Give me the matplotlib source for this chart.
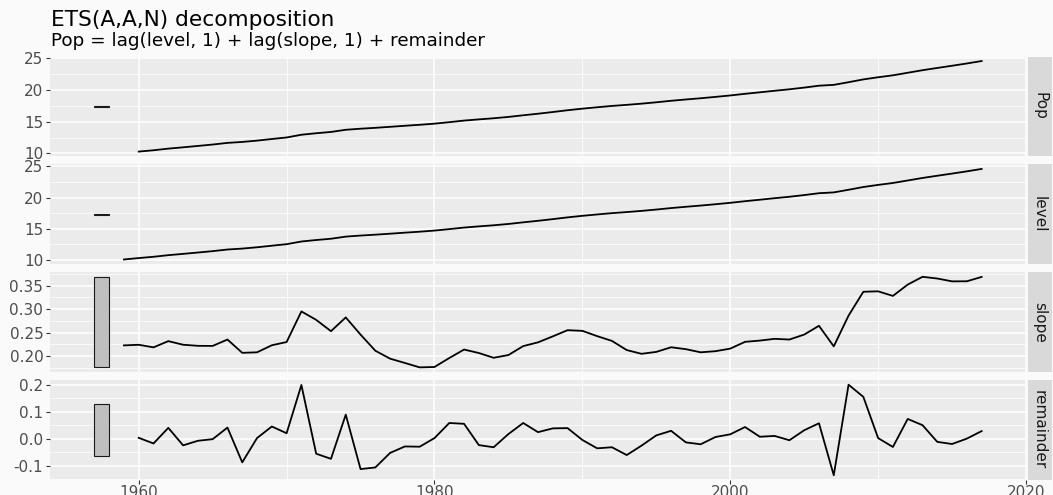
import matplotlib
matplotlib.use("Agg")
import matplotlib.pyplot as plt
from matplotlib.patches import Rectangle

# Australian population (millions) and its ETS(A,A,N) components
years = list(range(1960, 2018))
years_state = list(range(1959, 2018))

pop = [10.276, 10.483, 10.742, 10.950, 11.167, 11.388, 11.651, 11.799, 12.009, 12.263,
       12.507, 12.937, 13.177, 13.380, 13.723, 13.893, 14.033, 14.192, 14.358, 14.514,
       14.692, 14.927, 15.178, 15.369, 15.544, 15.758, 16.018, 16.264, 16.532, 16.814,
       17.065, 17.284, 17.495, 17.667, 17.855, 18.072, 18.311, 18.517, 18.711, 18.926,
       19.153, 19.413, 19.651, 19.895, 20.127, 20.395, 20.698, 20.828, 21.249, 21.692,
       22.032, 22.340, 22.742, 23.146, 23.504, 23.851, 24.211, 24.599]

level = [10.050,
         10.276, 10.483, 10.742, 10.950, 11.167, 11.388, 11.651, 11.799, 12.009, 12.263,
         12.507, 12.937, 13.177, 13.380, 13.723, 13.893, 14.033, 14.192, 14.358, 14.514,
         14.692, 14.927, 15.178, 15.369, 15.544, 15.758, 16.018, 16.264, 16.532, 16.814,
         17.065, 17.284, 17.495, 17.667, 17.855, 18.072, 18.311, 18.517, 18.711, 18.926,
         19.153, 19.413, 19.651, 19.895, 20.127, 20.395, 20.698, 20.828, 21.249, 21.692,
         22.032, 22.340, 22.742, 23.146, 23.504, 23.851, 24.211, 24.599]

slope = [0.2225,
         0.2238, 0.2183, 0.2316, 0.2239, 0.2216, 0.2214, 0.2350, 0.2066, 0.2077, 0.2228,
         0.2297, 0.2951, 0.2771, 0.2529, 0.2823, 0.2456, 0.2111, 0.1941, 0.1849, 0.1755,
         0.1763, 0.1955, 0.2136, 0.2062, 0.1960, 0.2019, 0.2210, 0.2290, 0.2418, 0.2550,
         0.2536, 0.2423, 0.2321, 0.2125, 0.2045, 0.2086, 0.2185, 0.2144, 0.2077, 0.2101,
         0.2156, 0.2301, 0.2328, 0.2365, 0.2350, 0.2456, 0.2644, 0.2204, 0.2861, 0.3372,
         0.3381, 0.3283, 0.3525, 0.3691, 0.3655, 0.3594, 0.3596, 0.3689]

remainder = [0.004, -0.017, 0.041, -0.024, -0.007, -0.001, 0.042, -0.087, 0.003, 0.046,
             0.021, 0.200, -0.055, -0.074, 0.090, -0.112, -0.106, -0.052, -0.028, -0.029,
             0.003, 0.059, 0.056, -0.023, -0.031, 0.018, 0.059, 0.025, 0.039, 0.040,
             -0.004, -0.035, -0.031, -0.060, -0.025, 0.013, 0.030, -0.013, -0.020, 0.007,
             0.017, 0.044, 0.008, 0.011, -0.005, 0.032, 0.058, -0.135, 0.201, 0.156,
             0.003, -0.030, 0.074, 0.051, -0.011, -0.019, 0.001, 0.029]

panels = [
    ("Pop", years, pop, [10, 15, 20, 25], ["10", "15", "20", "25"]),
    ("level", years_state, level, [10, 15, 20, 25], ["10", "15", "20", "25"]),
    ("slope", years_state, slope, [0.20, 0.25, 0.30, 0.35], ["0.20", "0.25", "0.30", "0.35"]),
    ("remainder", years, remainder, [-0.1, 0.0, 0.1, 0.2], ["-0.1", "0.0", "0.1", "0.2"]),
]
x_ticks = [1960, 1980, 2000, 2020]
x_minor = [1950, 1970, 1990, 2010, 2030]

BG = "#FAFAFA"
PANEL = "#EBEBEB"
STRIP = "#D9D9D9"

W, H = 1053, 495
fig = plt.figure(figsize=(W / 100, H / 100), dpi=100, facecolor=BG)
plt.rcParams["font.family"] = ["DejaVu Sans"]

left_px, right_px = 50, 1026
top_px, panel_h, gap = 56.5, 99.6, 8.3

# every scale bar gets the length of the narrowest panel range
bar_len = min(max(v) - min(v) for _, _, v, _, _ in panels)
bar_x0, bar_x1 = 1957, 1958
x_lo, x_hi = bar_x0, max(years)
x_pad = 0.05 * (x_hi - x_lo)

for i, (name, xs, vals, yt, ylab) in enumerate(panels):
    y_top = top_px + i * (panel_h + gap)
    ax = fig.add_axes([left_px / W, 1 - (y_top + panel_h) / H,
                       (right_px - left_px) / W, panel_h / H])
    ax.set_facecolor(PANEL)
    for s in ax.spines.values():
        s.set_visible(False)

    step = yt[1] - yt[0]
    ax.set_yticks(yt)
    ax.set_yticklabels(ylab)
    ax.set_yticks([t - step / 2 for t in yt] + [yt[-1] + step / 2], minor=True)
    ax.set_xticks(x_ticks)
    ax.set_xticks(x_minor, minor=True)

    # limits after the ticks, so the minor ticks don't widen the view
    lo, hi = min(vals), max(vals)
    r = hi - lo
    ax.set_ylim(lo - 0.05 * r, hi + 0.05 * r)
    ax.set_xlim(x_lo - x_pad, x_hi + x_pad)

    ax.grid(which="major", color="white", linewidth=1.1)
    ax.grid(which="minor", color="white", linewidth=0.55)
    ax.set_axisbelow(True)
    ax.tick_params(which="minor", length=0)
    ax.tick_params(which="major", length=2.8, width=0.8, color="#333333",
                   labelsize=11, labelcolor="#4D4D4D", pad=2)
    ax.tick_params(axis="x", which="major", pad=1)
    if i < len(panels) - 1:
        ax.tick_params(axis="x", which="major", length=0, labelbottom=False)

    ax.plot(xs, vals, color="black", linewidth=1.3, solid_joinstyle="round")

    mid = (lo + hi) / 2
    ax.add_patch(Rectangle((bar_x0, mid - bar_len / 2), bar_x1 - bar_x0, bar_len,
                           facecolor="#BFBFBF", edgecolor="#1A1A1A", linewidth=0.8, zorder=3))

    # facet strip on the right
    sax = fig.add_axes([1027.5 / W, 1 - (y_top + panel_h) / H, 24 / W, panel_h / H])
    sax.set_facecolor(STRIP)
    sax.set_xticks([])
    sax.set_yticks([])
    for s in sax.spines.values():
        s.set_visible(False)
    sax.text(0.5, 0.5, name, rotation=-90, ha="center", va="center",
             fontsize=11, color="#1A1A1A", transform=sax.transAxes)

fig.text(51 / W, 1 - 26 / H, "ETS(A,A,N) decomposition", fontsize=15.6,
         color="black", ha="left", va="baseline")
fig.text(51 / W, 1 - 46 / H, "Pop = lag(level, 1) + lag(slope, 1) + remainder",
         fontsize=13.2, color="black", ha="left", va="baseline")

fig.savefig("out.png", dpi=100, facecolor=BG)
